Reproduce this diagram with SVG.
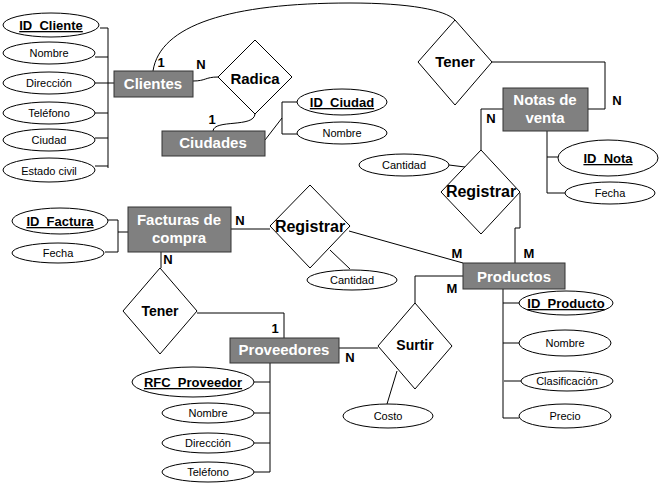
<svg xmlns="http://www.w3.org/2000/svg" width="661" height="488" viewBox="0 0 661 488">
  <style>
    .ent { fill: #808080; stroke: #333; stroke-width: 1; }
    .ent-t { font-family: "Liberation Sans", Arial, sans-serif; font-weight: bold; font-size: 15px; fill: #fff; text-anchor: middle; }
    .rel { fill: #fff; stroke: #000; stroke-width: 1; }
    .rel-t { font-family: "Liberation Sans", Arial, sans-serif; font-weight: bold; font-size: 15px; fill: #000; text-anchor: middle; }
    .att { fill: #fff; stroke: #000; stroke-width: 1; }
    .att-t { font-family: "Liberation Sans", Arial, sans-serif; font-size: 11px; fill: #000; text-anchor: middle; }
    .key-t { font-family: "Liberation Sans", Arial, sans-serif; font-weight: bold; font-size: 13px; fill: #000; text-anchor: middle; text-decoration: underline; }
    .card { font-family: "Liberation Sans", Arial, sans-serif; font-weight: bold; font-size: 13px; fill: #000; text-anchor: middle; }
    .ln { fill: none; stroke: #000; stroke-width: 1; }
  </style>
  <rect width="661" height="488" fill="#fff"/>

  <!-- connectors -->
  <g id="connectors" class="ln">
    <!-- Clientes attributes -->
    <path d="M100,28 H108 V168 M95,57 H108 M95,83 H114 M95,113 H108 M95,138 H108 M95,166 H108"/>
    <!-- Clientes - Tener (arc) -->
    <path d="M153,71 C160,25 230,3 350,3 C410,3 445,10 455,20"/>
    <!-- Clientes - Radica -->
    <path d="M193,81 C206,81 205,77 218,77"/>
    <!-- Ciudades - Radica -->
    <path d="M213,131 C214,119 254,128 255,114"/>
    <!-- Ciudades attributes -->
    <path d="M265,140 L282,118 M282,102 V134 M282,102 H297 M282,134 H297"/>
    <!-- Tener - Notas de venta -->
    <path d="M492,62 H605 V109 H588"/>
    <!-- Notas de venta - Registrar -->
    <path d="M503,109 H481 V150"/>
    <!-- Notas attributes -->
    <path d="M547,131 V193 H565 M547,157 H558"/>
    <!-- Cantidad - Registrar -->
    <path d="M449,165 L465,167"/>
    <!-- Registrar - Productos -->
    <path d="M520,193 V228 H515 V263"/>
    <!-- Facturas attributes -->
    <path d="M108,220 H118 V252 H105 M118,232 H128"/>
    <!-- Facturas - Registrar -->
    <path d="M231,229 H270"/>
    <!-- Registrar - Productos -->
    <path d="M349,231 L463,263"/>
    <!-- Cantidad - Registrar -->
    <path d="M330,250 L350,269"/>
    <!-- Facturas - Tener -->
    <path d="M161,252 V268"/>
    <!-- Tener - Proveedores -->
    <path d="M197,313 H284 V338"/>
    <!-- Proveedores attributes -->
    <path d="M270,363 V472 M254,382 H270 M254,413 H270 M254,443 H270 M254,472 H270"/>
    <!-- Proveedores - Surtir -->
    <path d="M339,348 H378"/>
    <!-- Surtir - Productos -->
    <path d="M415,303 V276 H463"/>
    <!-- Costo - Surtir -->
    <path d="M387,404 L397,371"/>
    <!-- Productos attributes -->
    <path d="M503,289 V418 H519 M503,303 H520 M503,343 H519 M504,381 H521"/>
  </g>

  <!-- Clientes -->
  <g id="clientes">
    <rect class="ent" x="114" y="71" width="79" height="26"/>
    <text class="ent-t" x="153" y="89">Clientes</text>
  </g>
  <g id="cliente-attrs">
    <ellipse class="att" cx="51" cy="25" rx="48" ry="12"/>
    <text class="key-t" x="51" y="30">ID_Cliente</text>
    <ellipse class="att" cx="49" cy="53" rx="46" ry="11"/>
    <text class="att-t" x="49" y="57">Nombre</text>
    <ellipse class="att" cx="49" cy="83" rx="46" ry="11"/>
    <text class="att-t" x="49" y="87">Dirección</text>
    <ellipse class="att" cx="49" cy="113" rx="46" ry="11"/>
    <text class="att-t" x="49" y="117">Teléfono</text>
    <ellipse class="att" cx="49" cy="140" rx="46" ry="11"/>
    <text class="att-t" x="49" y="144">Ciudad</text>
    <ellipse class="att" cx="49" cy="170" rx="46" ry="12"/>
    <text class="att-t" x="49" y="175">Estado civil</text>
  </g>

  <!-- Radica -->
  <g id="radica">
    <polygon class="rel" points="255,40 292,77 255,114 218,77"/>
    <text class="rel-t" x="255" y="84">Radica</text>
  </g>

  <!-- Ciudades -->
  <g id="ciudades">
    <rect class="ent" x="162" y="131" width="103" height="25"/>
    <text class="ent-t" x="213" y="148">Ciudades</text>
  </g>
  <g id="ciudad-attrs">
    <ellipse class="att" cx="342" cy="102" rx="45" ry="13"/>
    <text class="key-t" x="342" y="107">ID_Ciudad</text>
    <ellipse class="att" cx="342" cy="133" rx="45" ry="11"/>
    <text class="att-t" x="342" y="137">Nombre</text>
  </g>

  <!-- Tener (clientes / notas) -->
  <g id="tener-notas">
    <polygon class="rel" points="455,20 492,62 455,105 418,62"/>
    <text class="rel-t" x="455" y="67">Tener</text>
  </g>

  <!-- Notas de venta -->
  <g id="notas">
    <rect class="ent" x="503" y="88" width="85" height="43"/>
    <text class="ent-t" x="545" y="105">Notas de</text>
    <text class="ent-t" x="545" y="123">venta</text>
  </g>
  <g id="nota-attrs">
    <ellipse class="att" cx="608" cy="158" rx="50" ry="18"/>
    <text class="key-t" x="608" y="163">ID_Nota</text>
    <ellipse class="att" cx="610" cy="193" rx="45" ry="11"/>
    <text class="att-t" x="610" y="197">Fecha</text>
  </g>

  <!-- Registrar (notas / productos) -->
  <g id="registrar-notas">
    <polygon class="rel" points="481,150 520,192 481,234 441,192"/>
    <text class="rel-t" x="481" y="197" style="font-size:16px">Registrar</text>
  </g>
  <g id="cantidad-notas">
    <ellipse class="att" cx="404" cy="165" rx="45" ry="11"/>
    <text class="att-t" x="404" y="169">Cantidad</text>
  </g>

  <!-- Facturas de compra -->
  <g id="facturas">
    <rect class="ent" x="128" y="207" width="103" height="45"/>
    <text class="ent-t" x="179" y="225">Facturas de</text>
    <text class="ent-t" x="179" y="243">compra</text>
  </g>
  <g id="factura-attrs">
    <ellipse class="att" cx="60" cy="221" rx="48" ry="13"/>
    <text class="key-t" x="60" y="226">ID_Factura</text>
    <ellipse class="att" cx="58" cy="253" rx="46" ry="10"/>
    <text class="att-t" x="58" y="257">Fecha</text>
  </g>

  <!-- Registrar (facturas / productos) -->
  <g id="registrar-facturas">
    <polygon class="rel" points="310,185 350,226 310,268 270,226"/>
    <text class="rel-t" x="310" y="232" style="font-size:16px">Registrar</text>
  </g>
  <g id="cantidad-facturas">
    <ellipse class="att" cx="352" cy="280" rx="45" ry="10"/>
    <text class="att-t" x="352" y="284">Cantidad</text>
  </g>

  <!-- Productos -->
  <g id="productos">
    <rect class="ent" x="463" y="263" width="102" height="26"/>
    <text class="ent-t" x="514" y="282">Productos</text>
  </g>
  <g id="producto-attrs">
    <ellipse class="att" cx="566" cy="303" rx="47" ry="12"/>
    <text class="key-t" x="566" y="308">ID_Producto</text>
    <ellipse class="att" cx="565" cy="343" rx="46" ry="13"/>
    <text class="att-t" x="565" y="347">Nombre</text>
    <ellipse class="att" cx="567" cy="381" rx="46" ry="10"/>
    <text class="att-t" x="567" y="385">Clasificación</text>
    <ellipse class="att" cx="565" cy="416" rx="46" ry="12"/>
    <text class="att-t" x="565" y="420">Precio</text>
  </g>

  <!-- Tener (facturas / proveedores) -->
  <g id="tener-facturas">
    <polygon class="rel" points="160,268 197,311 160,354 123,311"/>
    <text class="rel-t" x="160" y="316" style="font-size:14px">Tener</text>
  </g>

  <!-- Proveedores -->
  <g id="proveedores">
    <rect class="ent" x="230" y="338" width="109" height="25"/>
    <text class="ent-t" x="284" y="355">Proveedores</text>
  </g>
  <g id="proveedor-attrs">
    <ellipse class="att" cx="193" cy="382" rx="61" ry="15"/>
    <text class="key-t" x="193" y="387">RFC_Proveedor</text>
    <ellipse class="att" cx="208" cy="413" rx="46" ry="10"/>
    <text class="att-t" x="208" y="417">Nombre</text>
    <ellipse class="att" cx="208" cy="443" rx="46" ry="10"/>
    <text class="att-t" x="208" y="447">Dirección</text>
    <ellipse class="att" cx="208" cy="472" rx="46" ry="10"/>
    <text class="att-t" x="208" y="476">Teléfono</text>
  </g>

  <!-- Surtir -->
  <g id="surtir">
    <polygon class="rel" points="415,303 452,346 415,389 378,346"/>
    <text class="rel-t" x="415" y="350" style="font-size:14px">Surtir</text>
  </g>
  <g id="costo">
    <ellipse class="att" cx="388" cy="416" rx="45" ry="12"/>
    <text class="att-t" x="388" y="420">Costo</text>
  </g>

  <!-- cardinalities -->
  <g id="cardinalities">
    <text class="card" x="161" y="67">1</text>
    <text class="card" x="201" y="69">N</text>
    <text class="card" x="212" y="124">1</text>
    <text class="card" x="617" y="105">N</text>
    <text class="card" x="491" y="123">N</text>
    <text class="card" x="240" y="225">N</text>
    <text class="card" x="168" y="264">N</text>
    <text class="card" x="457" y="258">M</text>
    <text class="card" x="529" y="258">M</text>
    <text class="card" x="452" y="293">M</text>
    <text class="card" x="275" y="333">1</text>
    <text class="card" x="350" y="362">N</text>
  </g>
</svg>
